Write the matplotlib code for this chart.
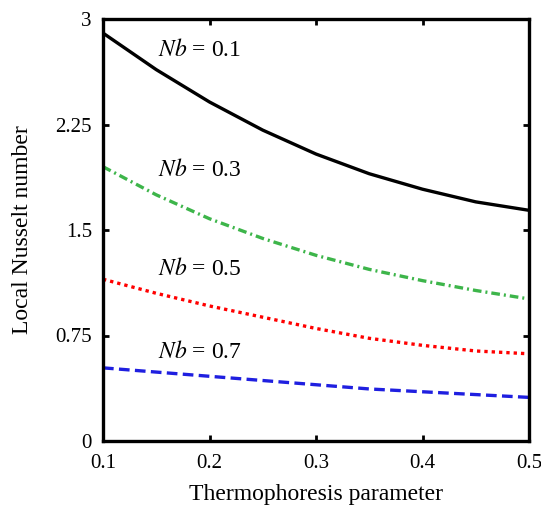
import matplotlib.pyplot as plt
import numpy as np

plt.rcParams['font.family'] = ['Liberation Serif', 'DejaVu Serif']
plt.rcParams['mathtext.fontset'] = 'stix'

# Thermophoresis parameter
nt = [0.1, 0.15, 0.2, 0.25, 0.3, 0.35, 0.4, 0.45, 0.5]

# Local Nusselt number for each Nb
nu_01 = [2.90, 2.64, 2.41, 2.21, 2.04, 1.90, 1.79, 1.70, 1.64]
nu_03 = [1.95, 1.75, 1.58, 1.44, 1.32, 1.22, 1.14, 1.07, 1.01]
nu_05 = [1.15, 1.05, 0.96, 0.88, 0.80, 0.73, 0.68, 0.64, 0.62]
nu_07 = [0.52, 0.49, 0.46, 0.43, 0.40, 0.37, 0.35, 0.33, 0.31]

labels = ['0.1', '0.3', '0.5', '0.7']
label_y = [2.78, 1.93, 1.22, 0.63]

fig = plt.figure(figsize=(5.41, 5.05), dpi=100)
ax = fig.add_axes([103 / 541, 1 - 441 / 505, 426 / 541, 422 / 505])

ax.plot(nt, nu_01, color='black', lw=2.4, ls='-')
ax.plot(nt, nu_03, color='#3db54a', lw=2.4, ls=(0, (2.6, 1.2, 0.6, 1.2)))
ax.plot(nt, nu_05, color='red', lw=2.4, ls=(0, (1, 1.2)))
ax.plot(nt, nu_07, color='#1f1fe0', lw=2.4, ls=(0, (3.2, 1.6)))

for lab, ly in zip(labels, label_y):
    ax.text(0.152, ly, r'$\mathit{Nb}$' + ' = ' + lab, fontsize=17, va='center', ha='left')

ax.set_xlim(0.1, 0.5)
ax.set_ylim(0, 3)
ax.set_xticks([0.1, 0.2, 0.3, 0.4, 0.5])
ax.set_xticklabels(['0.1', '0.2', '0.3', '0.4', '0.5'])
ax.set_yticks([0, 0.75, 1.5, 2.25, 3])
ax.set_yticklabels(['0', '0.75', '1.5', '2.25', '3'])
ax.tick_params(direction='in', length=4, width=2, labelsize=15, top=True, right=True)
ax.tick_params(axis='x', pad=9)
ax.tick_params(axis='y', pad=8)
for sp in ax.spines.values():
    sp.set_linewidth(2.4)

ax.set_xlabel('Thermophoresis parameter', fontsize=17, labelpad=8)
ax.set_ylabel('Local Nusselt number', fontsize=17, labelpad=16)

fig.savefig('out.png', dpi=100)
